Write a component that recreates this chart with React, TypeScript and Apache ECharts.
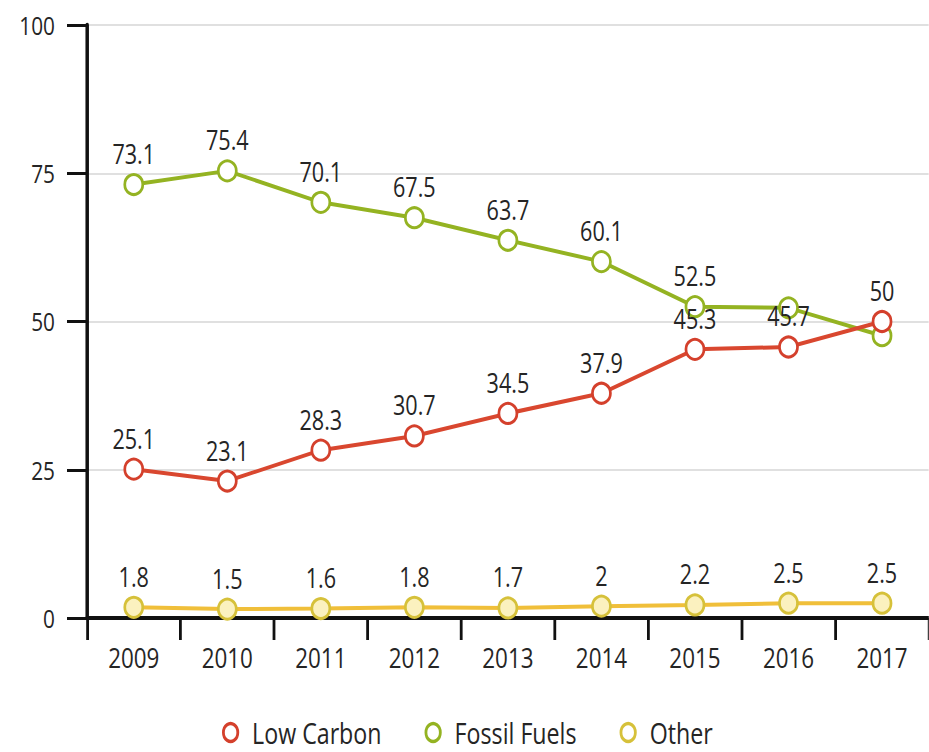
import React, { useEffect, useRef } from "react";
import * as echarts from "echarts";

// Share of generation by source, 2009–2017 (%)
const years = ["2009", "2010", "2011", "2012", "2013", "2014", "2015", "2016", "2017"];
const lowCarbon = [25.1, 23.1, 28.3, 30.7, 34.5, 37.9, 45.3, 45.7, 50];
const fossilFuels = [73.1, 75.4, 70.1, 67.5, 63.7, 60.1, 52.5, 52.3, 47.6];
const other = [1.8, 1.5, 1.6, 1.8, 1.7, 2, 2.2, 2.5, 2.5];
// Fossil labels left off where they would collide with the Low Carbon labels
const fossilUnlabelled = ["2016", "2017"];
const yTicks = [0, 25, 50, 75, 100];

const W = 929;
const H = 752;
// The chart is laid out on a wider canvas and squeezed horizontally,
// which gives the tall, condensed lettering of the house style.
const SQ = 0.8;
const px = (v: number) => v / SQ; // horizontal screen pixels -> canvas units

const FONT = "'Open Sans', 'Noto Sans', sans-serif";
const TEXT = "#252525";

const COLORS = {
  low: { line: "#d9472f", border: "#d4402c", fill: "#ffffff" },
  fossil: { line: "#94b322", border: "#94b322", fill: "#ffffff" },
  other: { line: "#f0bf3a", border: "#d6c13a", fill: "#fbf1bf" },
};

export default function App() {
  const ref = useRef<HTMLDivElement>(null);

  useEffect(() => {
    if (!ref.current) return;
    const chart = echarts.init(ref.current, null, { renderer: "svg" });

    const label = {
      show: true,
      position: "top" as const,
      distance: 6,
      color: TEXT,
      fontSize: 27,
      fontFamily: FONT,
    };

    const makeSeries = (
      name: string,
      values: number[],
      c: { line: string; border: string; fill: string },
      hidden: string[] = []
    ) => ({
      name,
      type: "line",
      data: values.map((v, i) =>
        hidden.includes(years[i]) ? { value: v, label: { show: false } } : v
      ),
      symbol: "circle",
      symbolSize: [px(18), 20],
      lineStyle: { color: c.line, width: 4 },
      itemStyle: { color: c.fill, borderColor: c.border, borderWidth: 3.2 },
      label,
    });

    const legendItem = (name: string, c: { border: string }) => ({
      name,
      icon: "circle",
      itemStyle: { color: "#ffffff", borderColor: c.border, borderWidth: 3.5 },
    });

    chart.setOption({
      animation: false,
      grid: { left: px(87), top: 25, width: px(844), height: 593, containLabel: false },
      legend: {
        left: px(222),
        top: 718,
        padding: 0,
        itemWidth: px(15),
        itemHeight: 18,
        itemGap: px(43),
        textStyle: {
          color: TEXT,
          fontSize: 29,
          fontFamily: FONT,
          padding: [0, 0, 0, px(10)],
        },
        data: [
          legendItem("Low Carbon", COLORS.low),
          legendItem("Fossil Fuels", COLORS.fossil),
          legendItem("Other", COLORS.other),
        ],
      },
      xAxis: {
        type: "category",
        data: years,
        boundaryGap: true,
        axisLine: { lineStyle: { color: "#111", width: 4 } },
        axisTick: { show: true, length: 22, lineStyle: { color: "#111", width: px(2.8) } },
        axisLabel: { color: TEXT, fontSize: 28, fontFamily: FONT, margin: 25 },
      },
      yAxis: {
        type: "value",
        min: yTicks[0],
        max: yTicks[yTicks.length - 1],
        interval: yTicks[1] - yTicks[0],
        axisLine: { show: true, lineStyle: { color: "#111", width: px(3.5) } },
        axisTick: { show: true, length: px(20), lineStyle: { color: "#111", width: 3 } },
        axisLabel: { color: TEXT, fontSize: 26, fontFamily: FONT, margin: px(32) },
        splitLine: { show: true, lineStyle: { color: "#d6d6d6", width: 1.5 } },
      },
      series: [
        makeSeries("Other", other, COLORS.other),
        makeSeries("Fossil Fuels", fossilFuels, COLORS.fossil, fossilUnlabelled),
        makeSeries("Low Carbon", lowCarbon, COLORS.low),
      ],
    });

    return () => chart.dispose();
  }, []);

  return (
    <div
      style={{
        position: "fixed",
        left: 0,
        top: 0,
        width: W,
        height: H,
        overflow: "hidden",
        background: "#fff",
      }}
    >
      <div
        ref={ref}
        style={{
          width: px(W),
          height: H,
          transform: `scaleX(${SQ})`,
          transformOrigin: "0 0",
        }}
      />
    </div>
  );
}
